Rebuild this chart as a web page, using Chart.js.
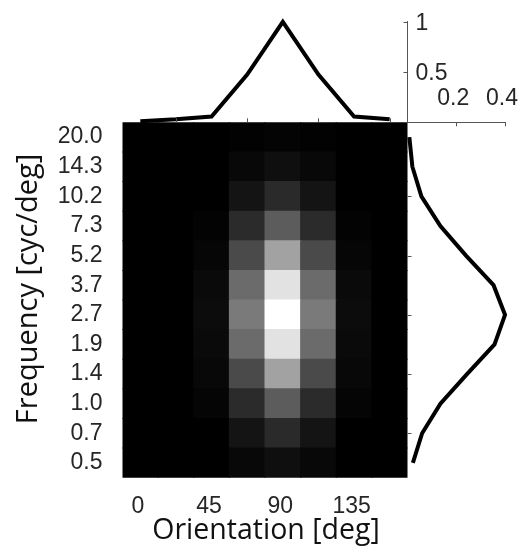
<!DOCTYPE html>
<html>
<head>
<meta charset="utf-8">
<script src="https://cdn.jsdelivr.net/npm/chart.js@4"></script>
<style>
  html, body { margin: 0; padding: 0; background: #fff; }
  #wrap { position: relative; width: 531px; height: 554px; }
  #wrap canvas { position: absolute; left: 0; top: 0; }
</style>
</head>
<body>
<div id="wrap">
  <canvas id="heat" width="531" height="554"></canvas>
  <canvas id="side" width="531" height="554"></canvas>
  <canvas id="top" width="531" height="554"></canvas>
</div>
<script>
// Stimulus grid: orientation columns, spatial-frequency rows (lowest first)
const orientations = [0, 22.5, 45, 67.5, 90, 112.5, 135, 157.5];
const orientationTicks = [0, 45, 90, 135];
const frequencies = ['0.5', '0.7', '1.0', '1.4', '1.9', '2.7', '3.7', '5.2', '7.3', '10.2', '14.3', '20.0'];

// Normalised response, one row per frequency (0.5 first, 20.0 last)
const response = [
  [0, 0, 0,     0.03,  0.06,  0.03,  0,     0],
  [0, 0, 0,     0.08,  0.165, 0.08,  0,     0],
  [0, 0, 0.02,  0.17,  0.36,  0.17,  0.02,  0],
  [0, 0, 0.03,  0.29,  0.635, 0.29,  0.03,  0],
  [0, 0, 0.04,  0.42,  0.885, 0.42,  0.04,  0],
  [0, 0, 0.047, 0.48,  1.0,   0.48,  0.047, 0],
  [0, 0, 0.04,  0.42,  0.885, 0.42,  0.04,  0],
  [0, 0, 0.024, 0.29,  0.635, 0.29,  0.024, 0],
  [0, 0, 0.012, 0.17,  0.36,  0.17,  0.012, 0],
  [0, 0, 0,     0.08,  0.165, 0.08,  0,     0],
  [0, 0, 0,     0.03,  0.06,  0.03,  0,     0],
  [0, 0, 0,     0.008, 0.016, 0.008, 0,     0]
];

// Marginal profiles
const orientationProfile = [0.01, 0.03, 0.058, 0.475, 1.0, 0.475, 0.058, 0.03];
const orientationProfileTicks = [0.5, 1];
const frequencyProfile = [0.022, 0.06, 0.135, 0.244, 0.357, 0.40, 0.353, 0.24, 0.135, 0.057, 0.02, 0.0075];
const frequencyProfileTicks = [0.2, 0.4];

// Plot boxes (px)
const BOX = { left: 122.5, right: 407.5, top: 122.3, bottom: 477.7, topPanelTop: 15, sideRight: 514.3 };
const W = 531, H = 554;
const TICK_FONT = { family: '"Liberation Sans", Arial, sans-serif', size: 23 };
const TICK_COLOR = '#262626';
const AXIS_COLOR = '#555555';

const gray = v => { const g = Math.round(v * 255); return `rgb(${g},${g},${g})`; };
const fixWidth = w => s => { s.width = w; };
const fixHeight = h => s => { s.height = h; };

// Short tick marks pointing into a panel
const innerTicks = {
  id: 'innerTicks',
  afterDraw(chart, args, opts) {
    const { ctx, chartArea: a, scales } = chart;
    ctx.save();
    ctx.strokeStyle = opts.color || AXIS_COLOR;
    ctx.lineWidth = 1;
    ctx.beginPath();
    (opts.x || []).forEach(v => {
      const px = Math.round(scales.x.getPixelForValue(v)) + 0.5;
      const y0 = opts.xEdge === 'top' ? a.top : a.bottom;
      const dir = opts.xEdge === 'top' ? 1 : -1;
      ctx.moveTo(px, y0); ctx.lineTo(px, y0 + dir * opts.length);
    });
    (opts.y || []).forEach(v => {
      const py = Math.round(scales.y.getPixelForValue(v)) + 0.5;
      const x0 = opts.yEdge === 'right' ? a.right : a.left;
      const dir = opts.yEdge === 'right' ? -1 : 1;
      ctx.moveTo(x0, py); ctx.lineTo(x0 + dir * opts.length, py);
    });
    ctx.stroke();
    ctx.restore();
  }
};

// Axis titles of the response map
const axisTitles = {
  id: 'axisTitles',
  afterDraw(chart) {
    const ctx = chart.ctx;
    ctx.save();
    ctx.fillStyle = '#111';
    ctx.font = '28.5px "Open Sans", "Noto Sans", sans-serif';
    ctx.textAlign = 'center';
    ctx.textBaseline = 'alphabetic';
    ctx.fillText('Orientation [deg]', 266, 538.5);
    ctx.font = '29px "Open Sans", "Noto Sans", sans-serif';
    ctx.translate(37, 289);
    ctx.rotate(-Math.PI / 2);
    ctx.fillText('Frequency [cyc/deg]', 0, 0);
    ctx.restore();
  }
};

// ---- Response map: one floating-bar dataset per frequency row ----
const heatDatasets = response.map((row, r) => ({
  label: frequencies[r] + ' cyc/deg',
  data: row.map(() => [r - 0.5, r + 0.5]),
  backgroundColor: row.map(gray),
  borderWidth: 0,
  inflateAmount: 0.5,
  barPercentage: 1,
  categoryPercentage: 1,
  grouped: false
}));

new Chart(document.getElementById('heat'), {
  type: 'bar',
  data: { labels: orientations.map(String), datasets: heatDatasets },
  options: {
    responsive: false, animation: false, devicePixelRatio: 1,
    layout: { padding: { left: 0, right: W - BOX.right, top: BOX.top, bottom: 0 } },
    plugins: { legend: { display: false }, tooltip: { enabled: false } },
    scales: {
      x: {
        type: 'category',
        grid: { display: false, drawTicks: false },
        border: { display: false },
        ticks: {
          autoSkip: false, maxRotation: 0, padding: 15, labelOffset: -2.5,
          font: TICK_FONT, color: TICK_COLOR,
          callback: (v, i) => orientationTicks.includes(orientations[i]) ? String(orientations[i]) : ''
        },
        afterFit: fixHeight(H - BOX.bottom)
      },
      y: {
        type: 'linear', min: -0.5, max: 11.5,
        grid: { display: false, drawTicks: false },
        border: { display: false },
        afterBuildTicks: s => { s.ticks = frequencies.map((f, i) => ({ value: i })); },
        ticks: {
          padding: 20, font: TICK_FONT, color: TICK_COLOR,
          callback: v => frequencies[v]
        },
        afterFit: fixWidth(BOX.left)
      }
    }
  },
  plugins: [axisTitles]
});

// ---- Frequency profile on the right ----
new Chart(document.getElementById('side'), {
  type: 'scatter',
  data: {
    datasets: [{
      data: frequencyProfile.map((v, i) => ({ x: v, y: i })),
      showLine: true, borderColor: '#000', borderWidth: 4,
      pointRadius: 0, clip: false, borderJoinStyle: 'miter'
    }]
  },
  options: {
    responsive: false, animation: false, devicePixelRatio: 1,
    layout: { padding: { left: BOX.right, right: W - BOX.sideRight, top: 0, bottom: H - BOX.bottom } },
    plugins: {
      legend: { display: false }, tooltip: { enabled: false },
      innerTicks: { x: frequencyProfileTicks, xEdge: 'top', y: [1, 3, 5, 7, 9], yEdge: 'left', length: 4 }
    },
    scales: {
      x: {
        type: 'linear', position: 'top', min: 0, max: 0.4,
        grid: { drawOnChartArea: false, drawTicks: false },
        border: { display: true, color: AXIS_COLOR, width: 1 },
        afterBuildTicks: s => { s.ticks = frequencyProfileTicks.map(v => ({ value: v })); },
        ticks: { padding: 10, labelOffset: -3, font: TICK_FONT, color: TICK_COLOR, callback: v => String(v) },
        afterFit: fixHeight(BOX.top)
      },
      y: {
        type: 'linear', min: -0.5, max: 11.5, display: false
      }
    }
  },
  plugins: [innerTicks]
});

// ---- Orientation profile on top ----
new Chart(document.getElementById('top'), {
  type: 'line',
  data: {
    labels: orientations.map(String),
    datasets: [{
      data: orientationProfile,
      borderColor: '#000', borderWidth: 4, pointRadius: 0,
      tension: 0, clip: false, borderJoinStyle: 'miter', fill: false
    }]
  },
  options: {
    responsive: false, animation: false, devicePixelRatio: 1,
    layout: { padding: { left: BOX.left, right: 0, top: BOX.topPanelTop, bottom: H - BOX.top } },
    plugins: {
      legend: { display: false }, tooltip: { enabled: false },
      innerTicks: { x: [1, 3, 5, 7], xEdge: 'bottom', y: orientationProfileTicks, yEdge: 'right', length: 4 }
    },
    scales: {
      x: { type: 'category', offset: true, display: false },
      y: {
        type: 'linear', position: 'right', min: 0, max: 1,
        grid: { drawOnChartArea: false, drawTicks: false },
        border: { display: true, color: AXIS_COLOR, width: 1 },
        afterBuildTicks: s => { s.ticks = orientationProfileTicks.map(v => ({ value: v })); },
        ticks: { padding: 8, labelOffset: 2, font: TICK_FONT, color: TICK_COLOR, callback: v => String(v) },
        afterFit: fixWidth(W - BOX.right)
      }
    }
  },
  plugins: [innerTicks]
});
</script>
</body>
</html>
